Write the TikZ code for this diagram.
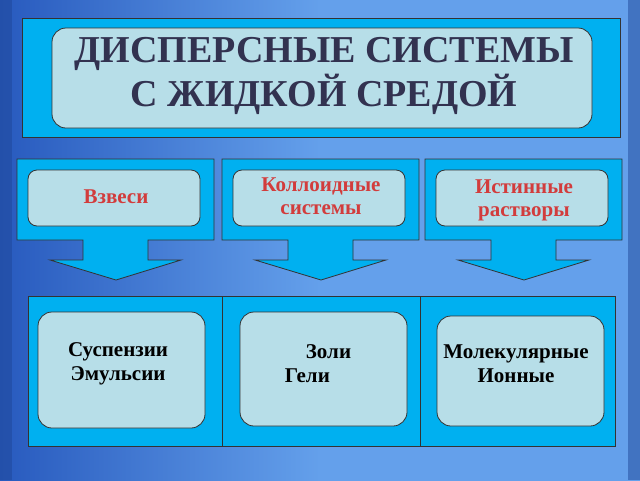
\documentclass[tikz,border=0pt]{standalone}
\usepackage{fontspec}
\setmainfont{Liberation Serif}
\definecolor{cy}{RGB}{0,176,240}
\definecolor{lb}{RGB}{183,222,232}
\definecolor{tt}{RGB}{50,50,80}
\definecolor{rd}{RGB}{210,60,60}
\definecolor{bgA}{RGB}{40,90,190}
\definecolor{bgB}{RGB}{100,160,235}
\tikzset{x=1pt,y=-1pt,
 frame/.style={fill=cy,draw=black!80,line width=0.8pt},
 inner/.style={fill=lb,draw=black!80,line width=0.8pt,rounded corners=9pt},
 lab/.style={font=\bfseries\fontsize{21}{23}\selectfont,align=center,text=rd},
 blab/.style={font=\bfseries\fontsize{21}{24}\selectfont,align=center,text=black}}
\begin{document}
\begin{tikzpicture}
\useasboundingbox (0,0) rectangle (640,480);
\shade[left color=bgA,right color=bgB,middle color=bgB] (0,0) rectangle (640,480);
\fill[bgA!80!black,opacity=0.5] (0,0) rectangle (12,480);
\fill[bgA!80!black,opacity=0.5] (628,0) rectangle (640,480);
% title
\draw[frame] (22,18) rectangle (620,137);
\draw[inner,rounded corners=14pt] (52,28) rectangle (592,128);
\node[font=\bfseries\fontsize{38}{44}\selectfont,text=tt,align=center] (title) at (324,76) {ДИСПЕРСНЫЕ СИСТЕМЫ\\С ЖИДКОЙ СРЕДОЙ};
% callouts
\foreach \o/\n/\t/\yy in {0/c1/Взвеси/197,205/c2/{Коллоидные\\системы}/196,408/c3/{Истинные\\растворы}/200}{
 \begin{scope}[xshift=\o]
 \draw[frame] (17,159) -- (214,159) -- (214,240) -- (148,240) -- (148,260) -- (181,260) -- (116,280) -- (50,260) -- (83,260) -- (83,240) -- (17,240) -- cycle;
 \draw[inner] (28,170) rectangle (200,226);
 \node[lab] (\n) at (116,\yy) {\t};
 \end{scope}}
% bottom
\draw[frame] (28,296) rectangle (615,446);
\draw[black!80,line width=0.8pt] (222,296) -- (222,446) (420,296) -- (420,446);
\draw[inner,rounded corners=14pt] (38,312) rectangle (205,428);
\draw[inner,rounded corners=14pt] (240,312) rectangle (407,426);
\draw[inner,rounded corners=14pt] (437,316) rectangle (604,426);
\node[blab] (b1) at (118,364) {Суспензии\\Эмульсии};
\node[blab,align=left] (b2) at (318,364) {\ \ \ \ Золи\\Гели};
\node[blab] (b3) at (516,364) {Молекулярные\\Ионные};
\end{tikzpicture}
\end{document}
